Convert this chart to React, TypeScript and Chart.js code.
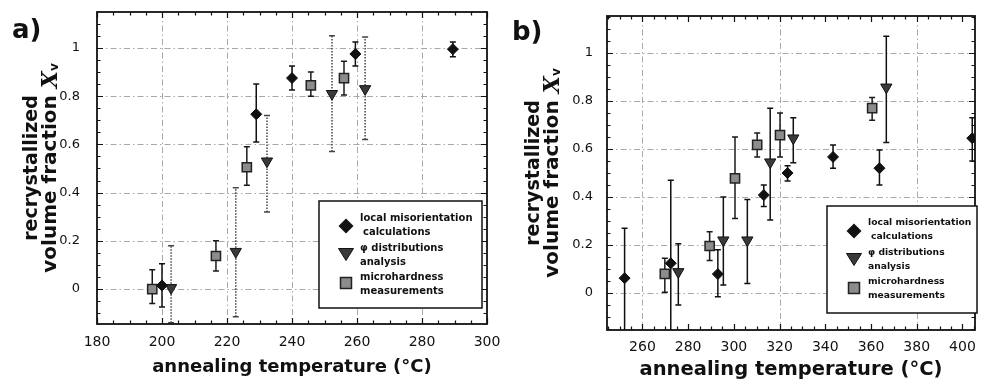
import React, { useEffect, useRef } from "react";
import { Chart, registerables } from "chart.js";

Chart.register(...registerables);

const FONT = '"DejaVu Sans", "Liberation Sans", sans-serif';

// ---------------- Panel a data ----------------
const aGridX = [200, 220, 240, 260, 280];
const aGridY = [0, 0.2, 0.4, 0.6, 0.8, 1];

const aDiamondX = [200, 229, 240, 259.5, 289.5];
const aDiamondY = [0.015, 0.725, 0.875, 0.975, 0.995];
const aDiamondLo = [-0.075, 0.61, 0.825, 0.925, 0.963];
const aDiamondHi = [0.105, 0.85, 0.925, 1.025, 1.025];

const aTriX = [202.8, 222.7, 232.3, 252.3, 262.5];
const aTriY = [0.005, 0.155, 0.53, 0.81, 0.83];
const aTriLo = [-0.14, -0.115, 0.32, 0.57, 0.62];
const aTriHi = [0.18, 0.42, 0.72, 1.05, 1.045];

const aSqX = [197, 216.6, 226.1, 245.8, 256];
const aSqY = [0.0, 0.137, 0.505, 0.845, 0.875];
const aSqLo = [-0.06, 0.075, 0.43, 0.8, 0.805];
const aSqHi = [0.08, 0.2, 0.59, 0.9, 0.945];

// ---------------- Panel b data ----------------
const bGridX = [260, 320, 380];
const bGridY = [0, 0.2, 0.4, 0.6, 0.8, 1];

const bDiamondX = [252.2, 272.4, 293, 313.1, 323.5, 343.4, 363.7, 404.3];
const bDiamondY = [0.062, 0.124, 0.079, 0.408, 0.5, 0.567, 0.52, 0.645];
const bDiamondLo = [-0.2, -0.2, -0.015, 0.36, 0.467, 0.52, 0.45, 0.55];
const bDiamondHi = [0.27, 0.47, 0.18, 0.45, 0.53, 0.617, 0.596, 0.73];

const bTriX = [275.7, 295.4, 305.9, 315.9, 326, 366.7];
const bTriY = [0.088, 0.22, 0.22, 0.545, 0.645, 0.857];
const bTriLo = [-0.05, 0.033, 0.04, 0.304, 0.543, 0.627];
const bTriHi = [0.205, 0.4, 0.39, 0.77, 0.73, 1.07];

const bSqX = [269.8, 289.4, 300.5, 310.2, 320.2, 360.5];
const bSqY = [0.08, 0.196, 0.478, 0.617, 0.658, 0.77];
const bSqLo = [0.003, 0.135, 0.31, 0.567, 0.567, 0.72];
const bSqHi = [0.145, 0.255, 0.65, 0.667, 0.75, 0.815];

const legendLines = [
  "local misorientation",
  "calculations",
  "\u03c6 distributions",
  "analysis",
  "microhardness",
  "measurements",
];
const xTitleText = "annealing temperature (\u00b0C)";
const yTitleLine1 = "recrystallized";
const yTitleLine2 = "volume fraction ";

type Series = { x: number[]; y: number[]; lo: number[]; hi: number[] };

interface PanelCfg {
  label: string;
  labelX: number;
  labelY: number;
  width: number;
  height: number;
  xMin: number;
  xMax: number;
  yMin: number;
  yMax: number;
  yAxisWidth: number;
  xAxisHeight: number;
  padTop: number;
  padRight: number;
  yTickPad: number;
  xTickPad: number;
  xTitleSize: number;
  xTitlePad: number;
  yTitleX1: number;
  yTitleX2: number;
  yTitleSize1: number;
  yTitleSize2: number;
  gridX: number[];
  gridY: number[];
  diamonds: Series;
  triangles: Series;
  squares: Series;
  triErrDash: number[];
  triErrColor: string;
  legend: { x: number; y: number; w: number; h: number; font: number };
}

function drawDiamond(ctx: CanvasRenderingContext2D, x: number, y: number, r: number) {
  ctx.beginPath();
  ctx.moveTo(x, y - r);
  ctx.lineTo(x + r, y);
  ctx.lineTo(x, y + r);
  ctx.lineTo(x - r, y);
  ctx.closePath();
  ctx.fillStyle = "#111";
  ctx.fill();
}
function drawTri(ctx: CanvasRenderingContext2D, x: number, y: number, r: number) {
  ctx.beginPath();
  ctx.moveTo(x - r, y - r * 0.6);
  ctx.lineTo(x + r, y - r * 0.6);
  ctx.lineTo(x, y + r);
  ctx.closePath();
  ctx.fillStyle = "#3a3a3a";
  ctx.fill();
  ctx.strokeStyle = "#111";
  ctx.lineWidth = 1;
  ctx.stroke();
}
function drawSq(ctx: CanvasRenderingContext2D, x: number, y: number, r: number) {
  ctx.fillStyle = "#8c8c8c";
  ctx.fillRect(x - r, y - r, 2 * r, 2 * r);
  ctx.strokeStyle = "#222";
  ctx.lineWidth = 1.5;
  ctx.strokeRect(x - r, y - r, 2 * r, 2 * r);
}

function makePlugin(cfg: PanelCfg) {
  return {
    id: "decor" + cfg.label,
    beforeDatasetsDraw(chart: any) {
      const { ctx, chartArea: ca } = chart;
      const xs = chart.scales.x;
      const ys = chart.scales.y;
      ctx.save();
      ctx.beginPath();
      ctx.rect(ca.left, ca.top, ca.right - ca.left, ca.bottom - ca.top);
      ctx.clip();
      // grid
      ctx.strokeStyle = "#a8a8a8";
      ctx.lineWidth = 1;
      ctx.setLineDash([6, 3, 1.5, 3]);
      for (const gx of cfg.gridX) {
        const px = Math.round(xs.getPixelForValue(gx)) + 0.5;
        ctx.beginPath();
        ctx.moveTo(px, ca.top);
        ctx.lineTo(px, ca.bottom);
        ctx.stroke();
      }
      for (const gy of cfg.gridY) {
        const py = Math.round(ys.getPixelForValue(gy)) + 0.5;
        ctx.beginPath();
        ctx.moveTo(ca.left, py);
        ctx.lineTo(ca.right, py);
        ctx.stroke();
      }
      // error bars
      const drawErr = (s: Series, color: string, dash: number[]) => {
        ctx.strokeStyle = color;
        ctx.lineWidth = 1.5;
        for (let i = 0; i < s.x.length; i++) {
          const px = xs.getPixelForValue(s.x[i]);
          const pLo = ys.getPixelForValue(s.lo[i]);
          const pHi = ys.getPixelForValue(s.hi[i]);
          ctx.setLineDash(dash);
          ctx.beginPath();
          ctx.moveTo(px, pLo);
          ctx.lineTo(px, pHi);
          ctx.stroke();
          ctx.setLineDash([]);
          ctx.beginPath();
          ctx.moveTo(px - 3, pLo);
          ctx.lineTo(px + 3, pLo);
          ctx.moveTo(px - 3, pHi);
          ctx.lineTo(px + 3, pHi);
          ctx.stroke();
        }
      };
      drawErr(cfg.triangles, cfg.triErrColor, cfg.triErrDash);
      drawErr(cfg.squares, "#1a1a1a", []);
      drawErr(cfg.diamonds, "#111", []);
      ctx.restore();
    },
    afterDatasetsDraw(chart: any) {
      const { ctx, chartArea: ca } = chart;
      const xs = chart.scales.x;
      const ys = chart.scales.y;
      ctx.save();
      ctx.strokeStyle = "#111";
      ctx.lineWidth = 1.2;
      ctx.setLineDash([]);
      // ticks on all four sides, pointing inward
      ctx.beginPath();
      const x0 = Math.ceil(cfg.xMin / 5) * 5;
      for (let v = x0; v <= cfg.xMax + 1e-9; v += 5) {
        const major = Math.abs(v / 20 - Math.round(v / 20)) < 1e-6;
        const len = major ? 6 : 3.5;
        const px = Math.round(xs.getPixelForValue(v)) + 0.5;
        ctx.moveTo(px, ca.bottom);
        ctx.lineTo(px, ca.bottom - len);
        ctx.moveTo(px, ca.top);
        ctx.lineTo(px, ca.top + len);
      }
      const y0 = Math.ceil(cfg.yMin / 0.05) * 0.05;
      for (let k = 0; y0 + k * 0.05 <= cfg.yMax + 1e-9; k++) {
        const v = y0 + k * 0.05;
        const major = Math.abs(v / 0.2 - Math.round(v / 0.2)) < 1e-6;
        const len = major ? 6 : 3.5;
        const py = Math.round(ys.getPixelForValue(v)) + 0.5;
        ctx.moveTo(ca.left, py);
        ctx.lineTo(ca.left + len, py);
        ctx.moveTo(ca.right, py);
        ctx.lineTo(ca.right - len, py);
      }
      ctx.stroke();
      // frame
      ctx.lineWidth = 1.8;
      ctx.strokeRect(ca.left, ca.top, ca.right - ca.left, ca.bottom - ca.top);
      ctx.restore();
    },
    afterDraw(chart: any) {
      const { ctx, chartArea: ca } = chart;
      ctx.save();
      // legend box
      const L = cfg.legend;
      ctx.fillStyle = "#fff";
      ctx.fillRect(L.x, L.y, L.w, L.h);
      ctx.strokeStyle = "#111";
      ctx.lineWidth = 1.5;
      ctx.strokeRect(L.x, L.y, L.w, L.h);
      drawDiamond(ctx, L.x + 27, L.y + 25, 7.5);
      drawTri(ctx, L.x + 27, L.y + 52, 7.5);
      drawSq(ctx, L.x + 27, L.y + 82, 5.5);
      ctx.fillStyle = "#111";
      ctx.font = `bold ${L.font}px ${FONT}`;
      ctx.textAlign = "left";
      ctx.textBaseline = "middle";
      const ly = [17, 31, 47, 61, 76, 90];
      legendLines.forEach((t, i) => {
        ctx.fillText(t, L.x + 41 + (i === 1 ? 3 : 0), L.y + ly[i]);
      });
      // panel label
      ctx.font = `bold 26px ${FONT}`;
      ctx.textBaseline = "alphabetic";
      ctx.fillText(cfg.label, cfg.labelX, cfg.labelY);
      // y title (two lines, rotated)
      const cy = (ca.top + ca.bottom) / 2;
      const bold1 = `bold ${cfg.yTitleSize1}px ${FONT}`;
      const bold2 = `bold ${cfg.yTitleSize2}px ${FONT}`;
      const ital = `italic bold ${cfg.yTitleSize2 + 2}px "DejaVu Serif", serif`;
      const sub = `bold ${Math.round(cfg.yTitleSize2 * 0.6)}px ${FONT}`;
      ctx.save();
      ctx.translate(cfg.yTitleX1, cy);
      ctx.rotate(-Math.PI / 2);
      ctx.font = bold1;
      ctx.textAlign = "center";
      ctx.textBaseline = "middle";
      ctx.fillText(yTitleLine1, 0, 0);
      ctx.restore();
      ctx.save();
      ctx.translate(cfg.yTitleX2, cy);
      ctx.rotate(-Math.PI / 2);
      ctx.textBaseline = "middle";
      ctx.textAlign = "left";
      ctx.font = bold2;
      const w1 = ctx.measureText(yTitleLine2).width;
      ctx.font = ital;
      const wX = ctx.measureText("X").width;
      ctx.font = sub;
      const wv = ctx.measureText("v").width;
      let sx = -(w1 + wX + wv) / 2;
      ctx.font = bold2;
      ctx.fillText(yTitleLine2, sx, 0);
      sx += w1;
      ctx.font = ital;
      ctx.fillText("X", sx, 0);
      sx += wX;
      ctx.font = sub;
      ctx.fillText("v", sx, 4);
      ctx.restore();
      ctx.restore();
    },
  };
}

function buildChart(canvas: HTMLCanvasElement, cfg: PanelCfg) {
  const toPts = (s: Series) => s.x.map((x, i) => ({ x, y: s.y[i] }));
  return new Chart(canvas, {
    type: "scatter",
    data: {
      datasets: [
        {
          label: "local misorientation calculations",
          data: toPts(cfg.diamonds),
          pointStyle: "rectRot",
          pointRadius: 5.5,
          backgroundColor: "#111",
          borderColor: "#111",
          borderWidth: 1,
        },
        {
          label: "\u03c6 distributions analysis",
          data: toPts(cfg.triangles),
          pointStyle: "triangle",
          rotation: 180,
          pointRadius: 6.5,
          backgroundColor: "#3a3a3a",
          borderColor: "#111",
          borderWidth: 1,
        },
        {
          label: "microhardness measurements",
          data: toPts(cfg.squares),
          pointStyle: "rect",
          pointRadius: 6.5,
          backgroundColor: "#8c8c8c",
          borderColor: "#222",
          borderWidth: 1.5,
        },
      ] as any,
    },
    options: {
      animation: false,
      responsive: false,
      devicePixelRatio: 1,
      layout: { padding: { top: cfg.padTop, right: cfg.padRight, left: 0, bottom: 0 } },
      plugins: { legend: { display: false }, tooltip: { enabled: false } },
      scales: {
        x: {
          type: "linear",
          min: cfg.xMin,
          max: cfg.xMax,
          grid: { display: false, drawTicks: false },
          border: { display: false },
          ticks: {
            stepSize: 20,
            includeBounds: false,
            autoSkip: false,
            maxRotation: 0,
            padding: cfg.xTickPad,
            color: "#111",
            font: { family: FONT, size: 14 },
            callback: (v: any) => String(Math.round(Number(v))),
          },
          title: {
            display: true,
            text: xTitleText,
            color: "#111",
            font: { family: FONT, size: cfg.xTitleSize, weight: "bold", lineHeight: 1.2 },
            padding: { top: 0, bottom: cfg.xTitlePad },
          },
          afterFit: (s: any) => {
            s.height = cfg.xAxisHeight;
            s.paddingLeft = 0;
            s.paddingRight = 0;
          },
        },
        y: {
          type: "linear",
          min: cfg.yMin,
          max: cfg.yMax,
          grid: { display: false, drawTicks: false },
          border: { display: false },
          ticks: {
            stepSize: 0.2,
            includeBounds: false,
            autoSkip: false,
            padding: cfg.yTickPad,
            color: "#111",
            font: { family: FONT, size: 13 },
            callback: (v: any) => String(Math.round(Number(v) * 10) / 10),
          },
          afterFit: (s: any) => {
            s.width = cfg.yAxisWidth;
            s.paddingTop = 0;
            s.paddingBottom = 0;
          },
        },
      },
    } as any,
    plugins: [makePlugin(cfg) as any],
  });
}

const cfgA: PanelCfg = {
  label: "a)",
  labelX: 12,
  labelY: 38,
  width: 510,
  height: 382,
  xMin: 180,
  xMax: 300,
  yMin: -0.145,
  yMax: 1.149,
  yAxisWidth: 97,
  xAxisHeight: 58,
  padTop: 12,
  padRight: 23,
  yTickPad: 17,
  xTickPad: 10,
  xTitleSize: 18,
  xTitlePad: 4,
  yTitleX1: 32,
  yTitleX2: 51,
  yTitleSize1: 19,
  yTitleSize2: 20,
  gridX: aGridX,
  gridY: aGridY,
  diamonds: { x: aDiamondX, y: aDiamondY, lo: aDiamondLo, hi: aDiamondHi },
  triangles: { x: aTriX, y: aTriY, lo: aTriLo, hi: aTriHi },
  squares: { x: aSqX, y: aSqY, lo: aSqLo, hi: aSqHi },
  triErrDash: [1.5, 1.5],
  triErrColor: "#444",
  legend: { x: 319, y: 201, w: 163, h: 107, font: 10 },
};

const cfgB: PanelCfg = {
  label: "b)",
  labelX: 20,
  labelY: 40,
  width: 491,
  height: 382,
  xMin: 244.5,
  xMax: 405.5,
  yMin: -0.154,
  yMax: 1.154,
  yAxisWidth: 115,
  xAxisHeight: 52,
  padTop: 16,
  padRight: 1,
  yTickPad: 14,
  xTickPad: 9,
  xTitleSize: 19.5,
  xTitlePad: 0,
  yTitleX1: 42,
  yTitleX2: 61,
  yTitleSize1: 19,
  yTitleSize2: 20,
  gridX: bGridX,
  gridY: bGridY,
  diamonds: { x: bDiamondX, y: bDiamondY, lo: bDiamondLo, hi: bDiamondHi },
  triangles: { x: bTriX, y: bTriY, lo: bTriLo, hi: bTriHi },
  squares: { x: bSqX, y: bSqY, lo: bSqLo, hi: bSqHi },
  triErrDash: [],
  triErrColor: "#111",
  legend: { x: 335, y: 206, w: 150, h: 107, font: 9.2 },
};

function Panel({ cfg, left }: { cfg: PanelCfg; left: number }) {
  const ref = useRef<HTMLCanvasElement | null>(null);
  useEffect(() => {
    if (!ref.current) return;
    const chart = buildChart(ref.current, cfg);
    return () => chart.destroy();
  }, [cfg]);
  return (
    <div style={{ position: "absolute", left, top: 0, width: cfg.width, height: cfg.height }}>
      <canvas ref={ref} width={cfg.width} height={cfg.height} style={{ display: "block" }} />
    </div>
  );
}

export default function App() {
  return (
    <div
      style={{
        position: "absolute",
        left: 0,
        top: 0,
        width: 983,
        height: 382,
        background: "#fff",
        overflow: "hidden",
      }}
    >
      <Panel cfg={cfgA} left={0} />
      <Panel cfg={cfgB} left={492} />
    </div>
  );
}
